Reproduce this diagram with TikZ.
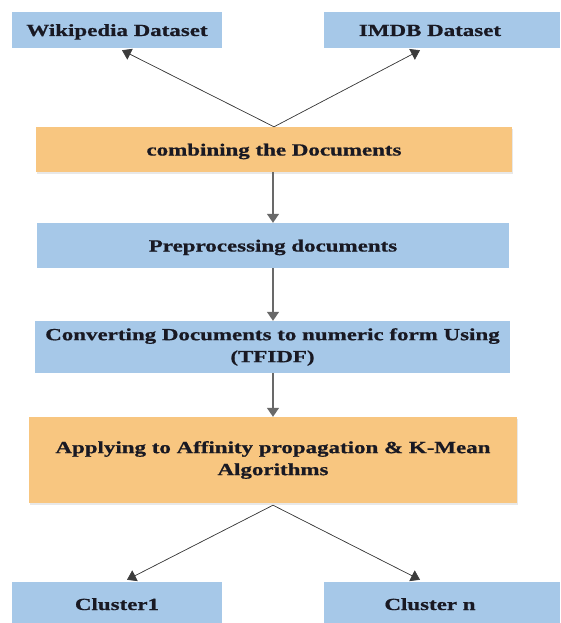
\documentclass[tikz,border=0pt]{standalone}
\usepackage{fontspec}
\setmainfont{Liberation Serif}[FakeStretch=1.35,BoldFeatures={FakeBold=0.8}]
\usepackage{tikz}
\usetikzlibrary{arrows.meta,shadows}

\definecolor{boxblue}{RGB}{166,200,232}
\definecolor{boxorange}{RGB}{248,198,128}
\definecolor{linegray}{RGB}{60,60,60}
\definecolor{stemgray}{RGB}{105,105,105}
\definecolor{inkdark}{RGB}{25,25,35}

\tikzset{
  box/.style={rectangle,inner sep=0pt,text=inkdark,font=\fontsize{17}{22}\selectfont\bfseries,align=center},
  bluebox/.style={box,fill=boxblue},
  orangebox/.style={box,fill=boxorange,drop shadow={opacity=0.18,shadow xshift=1pt,shadow yshift=-1.5pt}},
  oneline/.style={text height=12pt,text depth=0pt},
  splitarr/.style={-{Triangle[width=12pt,length=9pt]},draw=linegray,line width=0.7pt,fill=linegray!90},
  stemarr/.style={-{Triangle[width=12pt,length=9pt]},draw=stemgray,line width=1.4pt,fill=stemgray!90}
}

\begin{document}
\begin{tikzpicture}[x=1pt,y=-1pt]
  \useasboundingbox (0,0) rectangle (560,623);

  \draw (117,30) node[bluebox,oneline,minimum width=210pt,minimum height=36pt] (wiki) {Wikipedia Dataset};
  \draw (442,30) node[bluebox,oneline,minimum width=236pt,minimum height=36pt] (imdb) {\hspace*{-24pt}IMDB Dataset};
  \draw (274,149.5) node[orangebox,oneline,minimum width=476pt,minimum height=45pt] (comb) {combining the Documents};
  \draw (273,245.5) node[bluebox,oneline,minimum width=472pt,minimum height=45pt] (prep) {Preprocessing documents};
  \draw (272.5,347) node[bluebox,minimum width=475pt,minimum height=52pt] (conv) {Converting Documents to numeric form Using\\(TFIDF)};
  \draw (273,460) node[orangebox,minimum width=488pt,minimum height=86pt] (apply) {Applying to Affinity propagation \& K-Mean\\Algorithms};
  \draw (117,604) node[bluebox,oneline,minimum width=210pt,minimum height=44pt] (clus1) {Cluster1};
  \draw (442,604) node[bluebox,oneline,minimum width=236pt,minimum height=44pt] (clusn) {\hspace*{-24pt}Cluster n};

  % the datasets feed the combining step
  \path (comb.north) edge[splitarr] ([xshift=5pt,yshift=-2pt]wiki.south);
  \path (comb.north) edge[splitarr] ([xshift=-22pt,yshift=-2pt]imdb.south);

  % main chain
  \path ([xshift=-1pt]comb.south) edge[stemarr] ([xshift=-1pt]comb.south |- prep.north);
  \path (prep.south) edge[stemarr] (prep.south |- conv.north);
  \path (prep.south |- conv.south) edge[stemarr] (prep.south |- apply.north);

  % clusters
  \path ([yshift=-2pt]apply.south) edge[splitarr] ([xshift=10pt,yshift=2pt]clus1.north);
  \path ([yshift=-2pt]apply.south) edge[splitarr] ([xshift=-22pt,yshift=2pt]clusn.north);
\end{tikzpicture}
\end{document}
